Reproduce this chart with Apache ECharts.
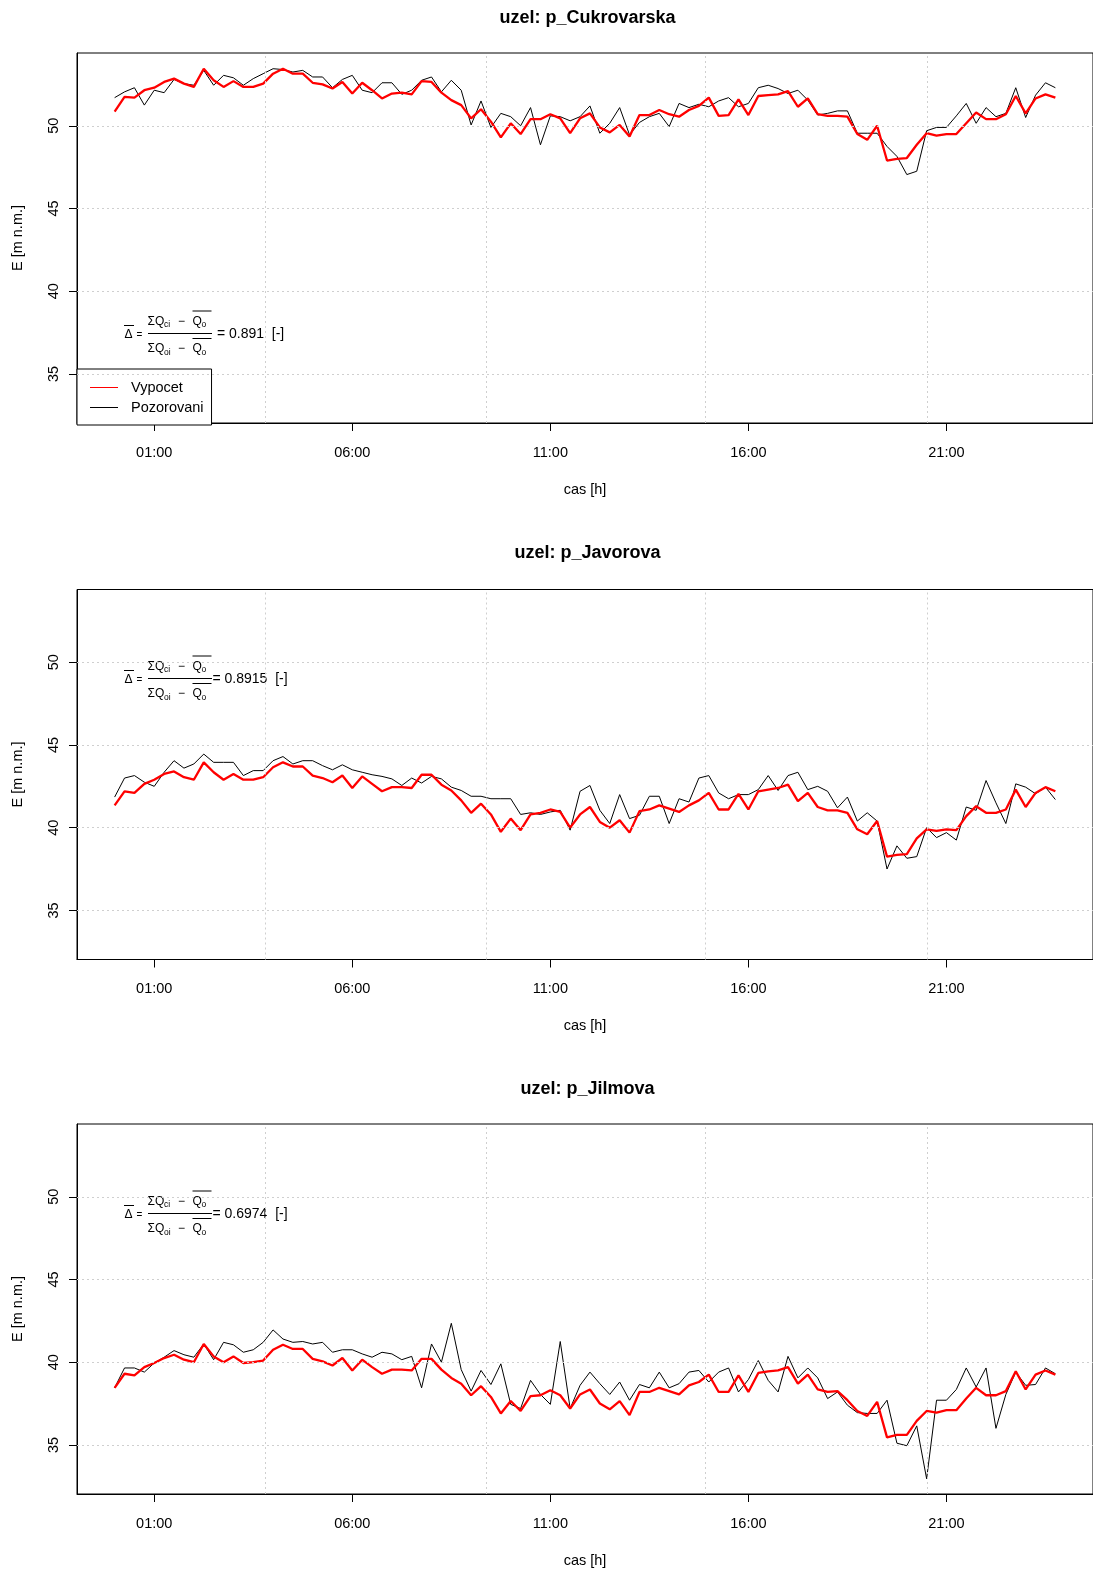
<!DOCTYPE html>
<html>
<head>
<meta charset="utf-8">
<script src="https://cdn.jsdelivr.net/npm/echarts@6/dist/echarts.min.js"></script>
<style>
  html, body { margin: 0; padding: 0; background: #fff; }
  #chart { width: 1093px; height: 1572px; }
</style>
</head>
<body>
<div id="chart"></div>
<script>
// Node names and fit coefficients shown in each panel
const nodeNames = ['p_Cukrovarska', 'p_Javorova', 'p_Jilmova'];
const fitValues = ['0.891', '0.8915', '0.6974'];

// Axis ticks
const tickHours = [1, 6, 11, 16, 21];
const tickLabels = ['01:00', '06:00', '11:00', '16:00', '21:00'];
const yTicks = [35, 40, 45, 50];
const gridHours = [3.80, 9.37, 14.92, 20.51];

// Piezometric head E [m n.m.], 15-minute samples starting 00:00
const calcCukrovarska = [
  50.85, 51.75, 51.7, 52.15, 52.3, 52.65, 52.85, 52.55, 52.35, 53.45,
  52.75, 52.35, 52.7, 52.35, 52.35, 52.55, 53.15, 53.45, 53.15, 53.15,
  52.6, 52.5, 52.25, 52.65, 51.95, 52.6, 52.15, 51.65, 51.95, 52.0,
  51.9, 52.7, 52.65, 52.0,
  51.55, 51.25, 50.45, 51.0, 50.25, 49.3, 50.15, 49.5, 50.4, 50.4,
  50.7, 50.45, 49.55, 50.45, 50.75, 49.9, 49.6, 50.05, 49.35, 50.65,
  50.65, 50.95, 50.7, 50.55, 50.95, 51.2, 51.7, 50.6, 50.65, 51.6,
  50.65, 51.8, 51.85,
  51.9, 52.1, 51.15, 51.65, 50.7, 50.6, 50.6, 50.55, 49.5, 49.15,
  50.0, 47.9, 48.0, 48.05, 48.85, 49.55, 49.4, 49.5, 49.5, 50.15,
  50.8, 50.4, 50.4, 50.7, 51.8, 50.75, 51.65, 51.9, 51.7
];
const obsCukrovarska = [
  51.7, 52.05, 52.3, 51.25, 52.15, 52.0, 52.8, 52.55, 52.45, 53.35,
  52.45, 53.05, 52.9, 52.45, 52.85, 53.15, 53.45, 53.4, 53.25, 53.35,
  52.95, 52.95, 52.3, 52.8, 53.05, 52.15, 52.0, 52.6, 52.6, 51.9,
  52.15, 52.75, 52.95, 52.05,
  52.75, 52.15, 50.05, 51.5, 49.9, 50.75, 50.55, 50.0, 51.1, 48.85,
  50.6, 50.55, 50.3, 50.55, 51.2, 49.55, 50.15, 51.1, 49.45, 50.2,
  50.55, 50.75, 49.95, 51.35, 51.1, 51.3, 51.15, 51.5, 51.7, 51.15,
  51.35, 52.3, 52.45,
  52.25, 51.95, 52.15, 51.55, 50.65, 50.75, 50.9, 50.9, 49.55, 49.55,
  49.55, 48.75, 48.15, 47.05, 47.25, 49.7, 49.9, 49.9, 50.6, 51.35,
  50.15, 51.1, 50.55, 50.75, 52.3, 50.5, 51.85, 52.6, 52.3
];
const calcJavorova = [
  41.35, 42.2, 42.1, 42.65, 42.9, 43.25, 43.4, 43.05, 42.9, 43.95,
  43.35, 42.9, 43.25, 42.9, 42.9, 43.05, 43.65, 43.95, 43.7, 43.7,
  43.15, 43.0, 42.75, 43.15, 42.4, 43.1, 42.65, 42.2, 42.45, 42.45,
  42.4, 43.2, 43.2, 42.6,
  42.25, 41.65, 40.9, 41.45, 40.8, 39.75, 40.55, 39.85, 40.8, 40.9,
  41.1, 40.95, 40.0, 40.8, 41.25, 40.35, 40.0, 40.45, 39.7, 41.0,
  41.1, 41.35, 41.15, 40.95, 41.35, 41.65, 42.1, 41.1, 41.1, 42.05,
  41.1, 42.2, 42.3,
  42.4, 42.6, 41.6, 42.1, 41.25, 41.05, 41.05, 40.9, 39.9, 39.6,
  40.4, 38.25, 38.35, 38.4, 39.35, 39.9, 39.8, 39.9, 39.85, 40.7,
  41.3, 40.9, 40.9, 41.1, 42.3, 41.25, 42.1, 42.45, 42.2
];
const obsJavorova = [
  41.85, 43.0, 43.15, 42.75, 42.5, 43.35, 44.05, 43.6, 43.85, 44.45,
  43.95, 43.95, 43.95, 43.15, 43.45, 43.45, 44.05, 44.3, 43.85, 44.05,
  44.05, 43.75, 43.5, 43.8, 43.5, 43.35, 43.2, 43.1, 42.95, 42.55,
  43.0, 42.7, 43.1, 42.95,
  42.45, 42.25, 41.9, 41.9, 41.75, 41.75, 41.75, 40.8, 40.9, 40.8,
  40.95, 41.05, 39.85, 42.2, 42.55, 41.05, 40.25, 42.0, 40.55, 40.75,
  41.9, 41.9, 40.25, 41.75, 41.55, 43.0, 43.15, 42.1, 41.75, 42.0,
  42.0, 42.3, 43.15,
  42.25, 43.15, 43.35, 42.3, 42.5, 42.2, 41.2, 41.85, 40.4, 40.9,
  40.4, 37.5, 38.9, 38.15, 38.25, 40.0, 39.4, 39.7, 39.25, 41.25,
  41.05, 42.85, 41.5, 40.25, 42.65, 42.45, 42.05, 42.45, 41.7
];
const calcJilmova = [
  38.45, 39.3, 39.2, 39.7, 39.95, 40.25, 40.45, 40.15, 40.0, 41.1,
  40.35, 40.0, 40.35, 39.95, 40.0, 40.1, 40.75, 41.05, 40.8, 40.8,
  40.2, 40.05, 39.8, 40.25, 39.5, 40.15, 39.7, 39.3, 39.55, 39.55,
  39.5, 40.2, 40.2, 39.55,
  39.05, 38.7, 38.0, 38.55, 37.9, 36.9, 37.65, 37.05, 37.95, 38.0,
  38.3, 38.0, 37.2, 38.05, 38.35, 37.5, 37.15, 37.65, 36.8, 38.2,
  38.2, 38.45, 38.25, 38.05, 38.6, 38.8, 39.25, 38.2, 38.2, 39.2,
  38.2, 39.35, 39.45,
  39.5, 39.7, 38.7, 39.25, 38.35, 38.2, 38.25, 37.7, 37.05, 36.75,
  37.6, 35.45, 35.6, 35.6, 36.45, 37.05, 36.95, 37.1, 37.1, 37.8,
  38.45, 38.0, 38.0, 38.25, 39.45, 38.35, 39.25, 39.5, 39.25
];
const obsJilmova = [
  38.45, 39.65, 39.65, 39.4, 39.95, 40.3, 40.7, 40.45, 40.3, 41.1,
  40.15, 41.2, 41.05, 40.6, 40.75, 41.2, 41.95, 41.4, 41.2, 41.25,
  41.1, 41.2, 40.6, 40.75, 40.75, 40.5, 40.3, 40.6, 40.5, 40.15,
  40.35, 38.45, 41.1, 40.0,
  42.35, 39.55, 38.25, 39.5, 38.65, 39.9, 37.45, 37.2, 38.9, 38.05,
  37.45, 41.25, 37.2, 38.6, 39.4, 38.7, 38.05, 38.8, 37.7, 38.65,
  38.45, 39.4, 38.45, 38.7, 39.4, 39.5, 38.8, 39.4, 39.65, 38.2,
  38.95, 40.1, 38.9,
  38.2, 40.35, 39.05, 39.65, 39.05, 37.8, 38.2, 37.4, 36.95, 36.9,
  36.9, 37.7, 35.1, 34.95, 36.15, 32.95, 37.7, 37.7, 38.35, 39.65,
  38.5, 39.65, 36.0, 38.05, 39.4, 38.6, 38.65, 39.65, 39.3
];

const calcSeries = [calcCukrovarska, calcJavorova, calcJilmova];
const obsSeries = [obsCukrovarska, obsJavorova, obsJilmova];

// sample times in hours (every 15 minutes)
const sampleHours = calcCukrovarska.map((_, i) => i * 0.25);
const pairs = (vals) => vals.map((v, i) => [sampleHours[i], v]);

const FONT = '"Liberation Sans", Arial, sans-serif';
const panelTops = [53, 589.5, 1124];
const PLOT_LEFT = 77, PLOT_W = 1021, PLOT_H = 370;
const formulaCenters = [334, 679, 1214];

const grids = [], xAxes = [], yAxes = [], series = [], graphics = [];

// ratio formula: bar(Delta) = (Sum Q_ci - bar Q_o) / (Sum Q_oi - bar Q_o) = value [-]
function formula(x0, yc, value, tight) {
  const t = (text, x, y, size) => ({
    type: 'text', x: x0 + x, y: yc + y,
    style: { text, font: `${size}px ${FONT}`, fill: '#000', textAlign: 'left', textVerticalAlign: 'middle' }
  });
  const ln = (x1, y1, x2, y2) => ({
    type: 'line',
    shape: { x1: x0 + x1, y1: yc + y1, x2: x0 + x2, y2: yc + y2 },
    style: { stroke: '#000', lineWidth: 1 }
  });
  const part = (dy, sub) => [
    t('\u03A3', 23.5, dy, 12),
    t('Q', 31, dy, 12),
    t(sub, 40, dy + 3.5, 8.5),
    t('\u2212', 54, dy, 12),
    t('Q', 68.5, dy, 12),
    t('o', 77.5, dy + 3.5, 8.5),
    ln(68.5, dy - 10.5, 87.5, dy - 10.5)
  ];
  return [
    t('\u0394', 0.5, 1, 12),
    ln(0, -8.5, 10, -8.5),
    t('=', 12.5, 1, 10),
    ...part(-12.5, 'ci'),
    ln(24, -0.5, 88, -0.5),
    ...part(15, 'oi'),
    t((tight ? '= ' : ' = ') + value + '  [-]', tight ? 88.5 : 89, 0.5, 14)
  ];
}

nodeNames.forEach((name, p) => {
  const top = panelTops[p];
  grids.push({
    left: PLOT_LEFT, top: top, width: PLOT_W, height: PLOT_H,
    show: true, borderColor: '#000', borderWidth: 1, backgroundColor: 'transparent'
  });
  xAxes.push({
    type: 'value', gridIndex: p, min: -0.95, max: 24.7,
    name: 'cas [h]', nameLocation: 'middle', nameGap: 59,
    nameTextStyle: { fontFamily: FONT, fontSize: 14.5, color: '#000' },
    axisLine: { show: true, onZero: false, lineStyle: { color: '#000', width: 1 } },
    axisTick: { show: true, customValues: tickHours, length: 8, lineStyle: { color: '#000' } },
    axisLabel: {
      customValues: tickHours, margin: 22,
      fontFamily: FONT, fontSize: 14.5, color: '#000',
      formatter: (v) => tickLabels[tickHours.indexOf(Math.round(v))] || ''
    },
    splitLine: { show: false }
  });
  yAxes.push({
    type: 'value', gridIndex: p, min: 32.03, max: 54.4,
    name: 'E [m n.m.]', nameLocation: 'middle', nameGap: 52, nameRotate: 90,
    nameTextStyle: { fontFamily: FONT, fontSize: 14.5, color: '#000' },
    axisLine: { show: true, onZero: false, lineStyle: { color: '#000', width: 1 } },
    axisTick: { show: true, customValues: yTicks, length: 8, lineStyle: { color: '#000' } },
    axisLabel: {
      customValues: yTicks, rotate: 90, margin: 16,
      fontFamily: FONT, fontSize: 14.5, color: '#000'
    },
    splitLine: { show: false }
  });
  // dotted reference grid
  series.push({
    type: 'line', xAxisIndex: p, yAxisIndex: p, data: [], silent: true, z: 1,
    markLine: {
      silent: true, symbol: 'none', animation: false,
      label: { show: false },
      lineStyle: { color: '#cfcfcf', type: [2, 3], width: 1 },
      data: gridHours.map(h => ({ xAxis: h })).concat(yTicks.map(v => ({ yAxis: v })))
    }
  });
  series.push({
    name: 'Pozorovani', type: 'line', xAxisIndex: p, yAxisIndex: p,
    data: pairs(obsSeries[p]), symbol: 'none', showSymbol: false, z: 3,
    lineStyle: { color: '#000', width: 1 }, itemStyle: { color: '#000' }
  });
  series.push({
    name: 'Vypocet', type: 'line', xAxisIndex: p, yAxisIndex: p,
    data: pairs(calcSeries[p]), symbol: 'none', showSymbol: false, z: 4,
    lineStyle: { color: '#ff0000', width: 2.3 }, itemStyle: { color: '#ff0000' }
  });
  graphics.push({
    type: 'text', x: 587.5, y: [18, 553.5, 1089][p],
    style: {
      text: 'uzel: ' + name, font: `bold 18px ${FONT}`, fill: '#000',
      textAlign: 'center', textVerticalAlign: 'middle'
    }
  });
  graphics.push(...formula(124, formulaCenters[p], fitValues[p], p > 0));
});

const legendIcon = 'path://M0,0H28V1H0Z';

const chart = echarts.init(document.getElementById('chart'), null, { renderer: 'canvas' });
chart.setOption({
  animation: false,
  backgroundColor: '#fff',
  grid: grids,
  xAxis: xAxes,
  yAxis: yAxes,
  series: series,
  legend: {
    data: [
      { name: 'Vypocet', icon: legendIcon },
      { name: 'Pozorovani', icon: legendIcon }
    ],
    orient: 'vertical', left: 77, top: 369,
    itemWidth: 28, itemHeight: 14, itemGap: 5,
    padding: [11, 8, 10, 13],
    borderColor: '#000', borderWidth: 1, borderRadius: 0, backgroundColor: '#fff',
    textStyle: { fontFamily: FONT, fontSize: 14.5, color: '#000', padding: [0, 0, 0, 8] },
    selectedMode: false
  },
  graphic: graphics
});
</script>
</body>
</html>
